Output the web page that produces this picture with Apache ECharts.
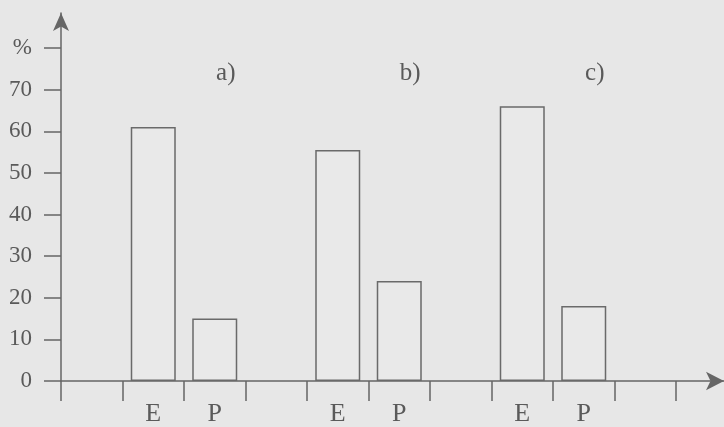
<!DOCTYPE html>
<html>
<head>
<meta charset="utf-8">
<script src="https://cdn.jsdelivr.net/npm/echarts@6/dist/echarts.min.js"></script>
<style>
    html, body { margin: 0; padding: 0; background: #e7e7e7; }
    #main { width: 724px; height: 427px; }
</style>
</head>
<body>
<div id="main"></div>
<script>
// x categories (boundary slots between groups are empty)
const categories = ['', 'E', 'P', '', 'E', 'P', '', 'E', 'P', '']
// group captions shown above the bars
const groupLabels = ['', '', 'a)', '', '', 'b)', '', '', 'c)', '']
// percentage values
const values = ['-', 61, 15, '-', 55.5, 24, '-', 66, 18, '-']
// y axis: 80 is shown as the unit sign
const yMax = 80
const yUnit = '%'

var myChart = echarts.init(document.getElementById('main'))

var axisColor = '#666'
var textColor = '#5a5a5a'
var font = 'Liberation Serif'

var option = {
    backgroundColor: '#e7e7e7',
    animation: false,
    grid: [
        // bars
        { left: 61, right: 48, top: 48, bottom: 46 },
        // only the arrow lines
        { left: 61, right: 0, top: 13, bottom: 46 }
    ],
    xAxis: [
        {
            type: 'category',
            gridIndex: 0,
            data: categories,
            axisLine: { show: false },
            axisTick: {
                show: true,
                length: 20,
                lineStyle: { color: axisColor, width: 1.5 }
            },
            axisLabel: {
                interval: 0,
                margin: 20,
                fontFamily: font,
                fontSize: 26,
                color: textColor
            }
        },
        {
            type: 'category',
            gridIndex: 0,
            position: 'top',
            data: groupLabels,
            axisLine: { show: false },
            axisTick: { show: false },
            axisLabel: {
                interval: 0,
                inside: true,
                margin: 13,
                padding: [0, 0, 0, 22],
                fontFamily: font,
                fontSize: 25,
                color: textColor
            }
        },
        {
            type: 'value',
            gridIndex: 1,
            min: 0,
            max: 1,
            splitLine: { show: false },
            axisTick: { show: false },
            axisLabel: { show: false },
            axisLine: {
                show: true,
                symbol: ['none', 'arrow'],
                symbolSize: [14, 18],
                lineStyle: { color: axisColor, width: 1.5 }
            }
        }
    ],
    yAxis: [
        {
            type: 'value',
            gridIndex: 0,
            min: 0,
            max: yMax,
            interval: 10,
            splitLine: { show: false },
            axisLine: { show: false },
            axisTick: {
                show: true,
                length: 17,
                lineStyle: { color: axisColor, width: 1.5 }
            },
            axisLabel: {
                margin: 29,
                fontFamily: font,
                fontSize: 23,
                color: textColor,
                formatter: function (v) {
                    return v === yMax ? yUnit : v
                }
            }
        },
        {
            type: 'value',
            gridIndex: 1,
            min: 0,
            max: 1,
            splitLine: { show: false },
            axisTick: { show: false },
            axisLabel: { show: false },
            axisLine: {
                show: true,
                symbol: ['none', 'arrow'],
                symbolSize: [12, 18],
                lineStyle: { color: axisColor, width: 1.5 }
            }
        }
    ],
    series: [
        {
            type: 'bar',
            xAxisIndex: 0,
            yAxisIndex: 0,
            data: values,
            barWidth: 45,
            itemStyle: {
                color: '#e9e9e9',
                borderColor: '#6a6a6a',
                borderWidth: 1.5
            }
        }
    ]
}

option && myChart.setOption(option, true)
</script>
</body>
</html>
